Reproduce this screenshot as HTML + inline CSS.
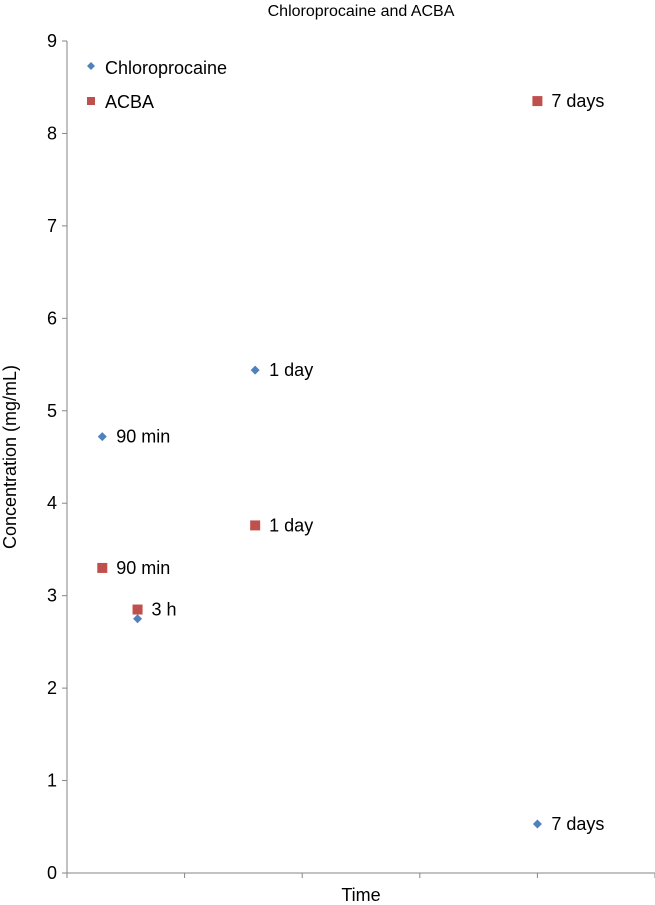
<!DOCTYPE html>
<html><head><meta charset="utf-8"><style>
body{margin:0;background:#fff;}
svg{display:block;font-family:"Liberation Sans",Arial,sans-serif;}
</style></head><body>
<svg width="655" height="905">
<text x="361" y="16" text-anchor="middle" font-size="16" fill="#000">Chloroprocaine and ACBA</text>
<g id="axes"></g>
<g id="marks"></g>
<text x="361" y="901" text-anchor="middle" font-size="18">Time</text>
<text transform="translate(16,457) rotate(-90)" text-anchor="middle" font-size="18">Concentration (mg/mL)</text>
<g>
<path d="M91,62 L95,66 L91,70 L87,66 Z" fill="#4f81bd"/>
<text x="105" y="74" font-size="18">Chloroprocaine</text>
<rect x="87" y="97" width="8" height="8" fill="#c0504d"/>
<text x="105" y="108" font-size="18">ACBA</text>
</g>
</svg>
<script>
const labels=["90 min","3 h","1 day","7 days"];
const chloroLabels=["90 min","","1 day","7 days"];
const xPos=[0.3,0.6,1.6,4.0];
const chloro=[4.72,2.75,5.44,0.53];
const acba=[3.30,2.85,3.76,8.35];
const yTicks=[0,1,2,3,4,5,6,7,8,9];
const NS="http://www.w3.org/2000/svg";
const X0=67,X1=655,Y0=873,Y1=41;
const xs=v=>X0+v*(X1-X0)/5;
const ys=v=>Y0-v*(Y0-Y1)/9;
function mk(tag,attrs,parent){const e=document.createElementNS(NS,tag);for(const k in attrs)e.setAttribute(k,attrs[k]);parent.appendChild(e);return e;}
const ax=document.getElementById('axes'),mg=document.getElementById('marks');
let l=mk('line',{x1:X0,y1:Y1,x2:X0,y2:Y0,stroke:'#868686'},ax);


l=mk('line',{x1:X0,y1:Y0,x2:X1,y2:Y0,stroke:'#868686'},ax);


yTicks.forEach(t=>{
 const y=ys(t);
 let tk=mk('line',{x1:X0-5,y1:y,x2:X0,y2:y,stroke:'#868686'},ax);
 
 
 let tx=mk('text',{x:X0-10,y:y+6,'text-anchor':'end','font-size':18},ax);
 tx.textContent=t;
 
 
});
for(let i=0;i<=5;i++){
 const x=xs(i);
 let tk=mk('line',{x1:x,y1:Y0,x2:x,y2:Y0+5,stroke:'#868686'},ax);
 
 
}
labels.forEach((lb,i)=>{
 const x=xs(xPos[i]);
 let y=ys(chloro[i]);
 let d=mk('path',{d:`M${x},${y-4.5} L${x+4.5},${y} L${x},${y+4.5} L${x-4.5},${y} Z`,fill:'#4f81bd'},mg);
 
 
 let t;
 if(chloroLabels[i]){
  t=mk('text',{x:x+14,y:y+6,'font-size':18},mg);t.textContent=chloroLabels[i];
  
  
 }
 y=ys(acba[i]);
 let r=mk('rect',{x:x-5,y:y-5,width:10,height:10,fill:'#c0504d'},mg);
 
 
 t=mk('text',{x:x+14,y:y+6,'font-size':18},mg);t.textContent=lb;
 
 
});
</script>
</body></html>
